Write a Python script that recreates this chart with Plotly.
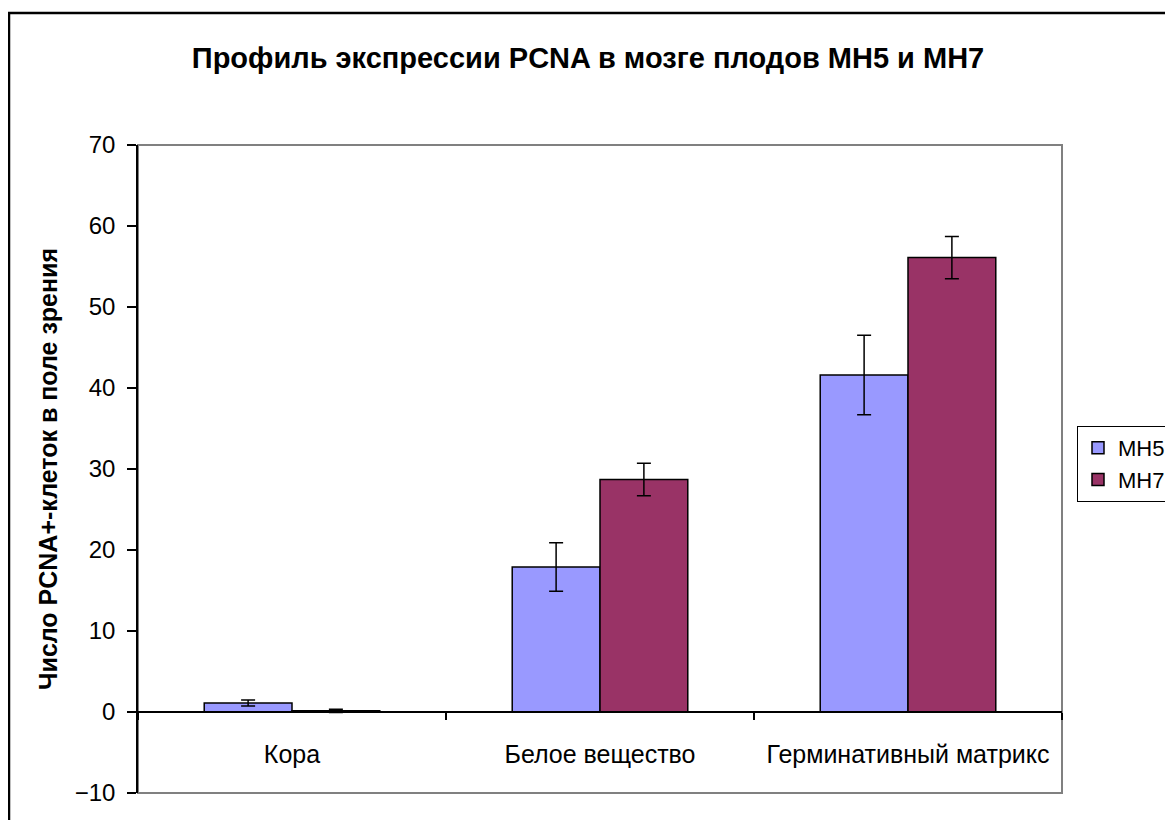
import plotly.graph_objects as go

categories = ["Кора", "Белое вещество", "Герминативный матрикс"]
mh5_values = [1.1, 17.9, 41.6]
mh5_errors = [0.37, 3.0, 4.9]
mh7_values = [0.15, 28.7, 56.1]
mh7_errors = [0.2, 2.0, 2.6]
series_names = ["МН5", "МН7"]
y_ticks = [-10, 0, 10, 20, 30, 40, 50, 60, 70]

OFF = 8  # default page body margin
W, H = 1173 - 2 * OFF, 828 - 2 * OFF
L, T = 138 - OFF, 145 - OFF
R, B = W - (1062 - OFF), H - (793 - OFF)
pw, ph = W - L - R, H - T - B
ymin, ymax = -10, 70

fig = go.Figure()
fig.add_trace(go.Bar(
    x=categories, y=mh5_values, name=series_names[0],
    marker=dict(color="#9999FF", line=dict(color="black", width=1.5)),
    error_y=dict(type="data", array=mh5_errors, color="black", thickness=1.5, width=7),
))
fig.add_trace(go.Bar(
    x=categories, y=mh7_values, name=series_names[1],
    marker=dict(color="#993366", line=dict(color="black", width=1.5)),
    error_y=dict(type="data", array=mh7_errors, color="black", thickness=1.5, width=7),
))

font = "Liberation Sans, Arial, sans-serif"
fig.update_layout(
    width=W, height=H, autosize=False,
    margin=dict(l=L, r=R, t=T, b=B, autoexpand=False),
    paper_bgcolor="white", plot_bgcolor="white",
    barmode="group", bargap=0.43, bargroupgap=0,
    font=dict(family=font, color="black", size=24),
    title=dict(text="<b>Профиль экспрессии PCNA в мозге плодов МН5 и МН7</b>",
               x=(588 - OFF) / W, xanchor="center", y=1 - (58 - OFF) / H, yanchor="middle",
               font=dict(size=29, family=font, color="black")),
    showlegend=True,
    legend=dict(xref="container", yref="container",
                x=(1077 - OFF) / W, xanchor="left", y=1 - (426 - OFF) / H, yanchor="top",
                bordercolor="black", borderwidth=1, bgcolor="white",
                font=dict(size=22, family=font), tracegroupgap=0, itemwidth=30),
    xaxis=dict(
        type="category", anchor="free", position=(0 - ymin) / (ymax - ymin),
        showline=True, linecolor="black", linewidth=1.5,
        ticks="outside", tickson="boundaries", ticklen=7, tickwidth=1.5, tickcolor="black",
        showgrid=False, zeroline=False, ticklabelstandoff=20, automargin=False,
        tickfont=dict(size=25, family=font),
    ),
    yaxis=dict(
        range=[ymin, ymax], tickvals=y_ticks, showgrid=False, zeroline=False,
        showline=True, linecolor="black", linewidth=1.5,
        ticks="outside", ticklen=9, tickwidth=1.5, tickcolor="black",
        ticklabelstandoff=7, automargin=False,
        tickfont=dict(size=24, family=font),
        title=dict(text="<b>Число PCNA+-клеток в поле зрения</b>", font=dict(size=25, family=font), standoff=10),
    ),
    shapes=[
        dict(type="rect", xref="paper", yref="paper", x0=0, x1=1, y0=0, y1=1,
             line=dict(color="#808080", width=2), fillcolor="rgba(0,0,0,0)", layer="below"),
        dict(type="rect", xref="paper", yref="paper",
             x0=(1 - L) / pw, x1=(W + 20 - L) / pw,
             y0=-(B + 40) / ph, y1=(H - B - 5) / ph,
             line=dict(color="black", width=2.5), fillcolor="rgba(0,0,0,0)", layer="below"),
    ],
)

fig.write_html("out.html")
